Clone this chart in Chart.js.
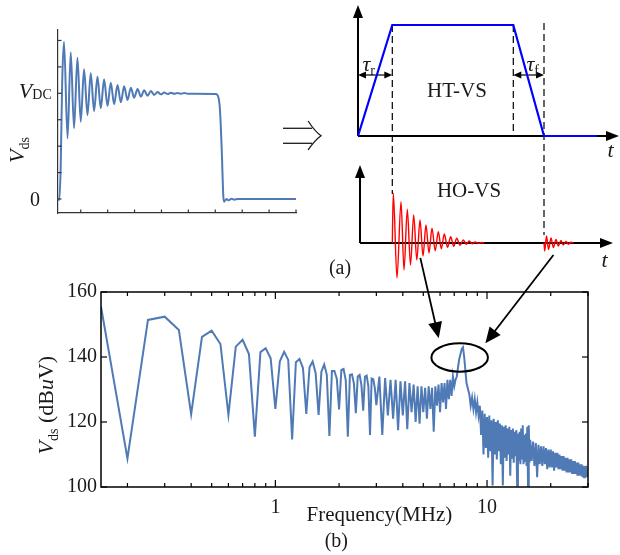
<!DOCTYPE html>
<html>
<head>
<meta charset="utf-8">
<script src="https://cdn.jsdelivr.net/npm/chart.js@4.4.1/dist/chart.umd.min.js"></script>
<style>
  html, body { margin: 0; padding: 0; background: #fff; }
  #fig { position: relative; width: 620px; height: 555px; overflow: hidden; }
  #fig canvas { position: absolute; }
</style>
</head>
<body>
<div id="fig">
  <canvas id="vdsChart" width="330" height="230" style="left:0;top:0"></canvas>
  <canvas id="schemeChart" width="300" height="290" style="left:320px;top:0"></canvas>
  <canvas id="specChart" width="620" height="310" style="left:0;top:245px"></canvas>
</div>
<script>
const FONT = '"Liberation Serif", "Times New Roman", serif';
const INK = '#1a1a1a';
const TRACE = '#4f7ab5';
Chart.defaults.font.family = FONT;
Chart.defaults.color = INK;

// ---- (a) left: measured Vds, time in tick units, level in units of VDC
const vdsTime = [-0.845, -0.80, -0.745, -0.69, -0.622, -0.49, -0.372, -0.249, -0.123, 0.0,
  0.123, 0.25, 0.372, 0.495, 0.622, 0.745, 0.868, 0.995, 1.117, 1.24,
  1.367, 1.49, 1.613, 1.739, 1.862, 1.985, 2.112, 2.235, 2.357, 2.484,
  2.607, 2.73, 2.857, 2.98, 3.102, 3.23, 3.35, 3.48, 3.6, 3.73,
  3.85, 3.98, 4.2, 5.02, 5.11, 5.175, 5.24, 5.30, 5.33, 5.42,
  5.50, 5.60, 5.70, 5.85, 8.0];
const vdsLevel = [0.0, -0.01, 0.30, 1.10, 1.488, 0.574, 1.388, 0.669, 1.337, 0.731,
  1.227, 0.795, 1.189, 0.833, 1.157, 0.858, 1.132, 0.880, 1.100, 0.896,
  1.078, 0.915, 1.066, 0.937, 1.053, 0.958, 1.041, 0.968, 1.028, 0.978,
  1.022, 0.985, 1.012, 0.990, 1.008, 0.993, 1.006, 0.995, 1.004, 0.995,
  1.003, 0.996, 0.996, 0.994, 0.968, 0.842, 0.464, 0.02, -0.025, 0.0,
  -0.012, 0.002, -0.006, 0.0, 0.0];
const vdsTimeTicks = [0, 1, 2, 3, 4, 5, 6, 7, 8];
const vdsLevelTicks = [0, 0.25, 0.5, 0.75, 1, 1.25, 1.5];

// ---- (a) right: HT-VS trapezoid and HO-VS ringing (schematic units)
const htTime = [0, 3.43, 15.53, 18.6, 23.9];
const htLevel = [10.7, 21.8, 21.8, 10.7, 10.7];
const hoRiseTime = [3.43, 3.53, 3.90, 4.30, 4.60, 4.93, 5.25, 5.57, 5.88, 6.20, 6.50, 6.80, 7.10, 7.40, 7.72,
  8.03, 8.33, 8.63, 8.95, 9.27, 9.57, 9.87, 10.20, 10.53, 10.83, 11.13, 11.43, 11.73, 12.05, 12.37, 12.6];
const hoRiseLevel = [0, 4.97, -3.5, 4.13, -2.7, 3.37, -2.2, 2.8, -1.7, 2.3, -1.3, 1.8, -1.0, 1.47, -0.78,
  1.13, -0.58, 0.9, -0.43, 0.63, -0.33, 0.47, -0.23, 0.3, -0.13, 0.2, -0.08, 0.1, -0.04, 0.05, 0];
const hoFallTime = [18.6, 18.67, 18.85, 19.05, 19.3, 19.53, 19.8, 20.03, 20.3, 20.53, 20.8, 21.03, 21.3, 21.55];
const hoFallLevel = [0, -0.8, 0.7, -0.65, 0.5, -0.45, 0.35, -0.3, 0.25, -0.2, 0.15, -0.12, 0.07, 0];
const edgeGuides = [[3.43, 21.8, 4.9], [15.53, 21.8, 11.2], [18.6, 22.0, 0.8]];

// ---- (b): Vds spectrum, dBuV on four frequency grids (MHz)
const dbBand1 = [155.5, 108.8, 151.4, 152.4, 148.3, 122.4, 146.2, 148.1, 144.0, 122.2,
  143.2, 145.3, 140.9, 115.5, 141.5, 142.7, 139.6, 124.0, 138.7, 141.6,
  139.1, 114.6, 138.4, 139.4, 136.6, 122.5, 136.8, 138.6, 135.0, 122.2,
  135.5, 137.7, 134.5, 115.7, 135.7, 135.7, 133.4, 123.9, 136.0, 136.3,
  132.9, 115.5, 134.5, 134.7, 131.9, 122.7, 134.0, 134.5, 131.4, 123.5,
  134.0, 134.3, 131.0, 116.0, 133.4, 133.2, 130.5, 125.2];
const dbBand2 = [134, 116, 133.5, 122, 133, 121, 133, 117.5, 132.5,
  122, 132.5, 117.8, 132, 123, 131.5, 120, 131, 119.5, 131,
  123, 130.5, 121, 131, 124, 130.5, 117, 131, 125, 131.5,
  123, 132, 126, 132, 124, 133, 127, 133, 128, 134,
  131, 133, 134, 137, 139.5, 141, 142.5, 143, 140, 136,
  132];
const dbBand3 = [128.5, 125, 127.5, 124, 127, 123,
  126, 122, 125, 116, 123.5, 110, 122.5, 112,
  121.5, 109, 122, 111, 120.5, 100.5, 121, 110,
  120, 108.5, 120.5, 111, 119.5, 107, 119, 100.5,
  118.5, 109, 119, 108, 118, 110, 118.5, 103.5,
  117.5, 109, 118, 107.5, 117, 109.5, 117.5, 100.5,
  116.5, 108, 117, 107, 118, 108.5, 119, 107,
  116, 108, 116.5, 106.5, 118.5, 100, 119, 107.5,
  114.5];
const dbBand4 = [108, 114, 106.5, 113.5, 103, 113, 107,
  112.5, 106.5, 112.5, 107, 112, 105.5, 111.5, 106,
  111.5, 106, 111, 105, 110.5, 106, 110.5, 105.5,
  110, 105.5, 109.5, 105, 109.5, 105, 109, 104.5,
  109, 104.5, 108.5, 104.5, 108.5, 104, 108, 104,
  108, 104, 107.5, 103.5, 107.5, 103.5, 107, 103.5,
  107, 103, 106.5, 103, 106.5, 103, 106.5, 103,
  105];
const specFreqTicks = [0.2, 0.3, 0.4, 0.5, 0.6, 0.7, 0.8, 0.9, 1, 2, 3, 4, 5, 6, 7, 8, 9, 10, 20, 30];
const specFreqLabels = [1, 10];
const specDbTicks = [100, 120, 140, 160];
const peakRing = { fLo: 5.46, fHi: 10.1, dbLo: 135.5, dbHi: 144.2 };
const pointers = [[4.84, 170.5, 5.91, 145.8], [20.6, 171.4, 9.82, 144.2]];

function gridPoints(from, step, levels) {
  return levels.map((db, i) => ({ x: +(from + i * step).toFixed(3), y: db }));
}
const specPoints = [
  ...gridPoints(0.15, 0.05, dbBand1),
  ...gridPoints(3.1, 0.1, dbBand2),
  ...gridPoints(8.25, 0.125, dbBand3),
  ...gridPoints(16.25, 0.25, dbBand4),
];

function seg(ctx, x1, y1, x2, y2) {
  ctx.beginPath(); ctx.moveTo(x1, y1); ctx.lineTo(x2, y2); ctx.stroke();
}
function arrow(ctx, x1, y1, x2, y2, len, half) {
  const a = Math.atan2(y2 - y1, x2 - x1), c = Math.cos(a), s = Math.sin(a);
  seg(ctx, x1, y1, x2 - len * 0.7 * c, y2 - len * 0.7 * s);
  ctx.beginPath();
  ctx.moveTo(x2, y2);
  ctx.lineTo(x2 - len * c + half * s, y2 - len * s - half * c);
  ctx.lineTo(x2 - len * c - half * s, y2 - len * s + half * c);
  ctx.closePath(); ctx.fill();
}
// parts: [text, size, italic, dy]
function rich(ctx, parts, x, y, align) {
  const fonts = parts.map(([, size, it]) => `${it ? 'italic ' : ''}${size}px ${FONT}`);
  const widths = parts.map(([txt], i) => { ctx.font = fonts[i]; return ctx.measureText(txt).width; });
  const total = widths.reduce((s, w) => s + w, 0);
  let cx = align === 'right' ? x - total : align === 'center' ? x - total / 2 : x;
  ctx.textAlign = 'left'; ctx.textBaseline = 'alphabetic';
  parts.forEach(([txt, , , dy], i) => { ctx.font = fonts[i]; ctx.fillText(txt, cx, y + (dy || 0)); cx += widths[i]; });
}

// ---------- (a) left
const vdsDecor = {
  id: 'vdsDecor',
  afterDraw(chart) {
    const { ctx, chartArea: a, scales: { x, y } } = chart;
    ctx.save();
    ctx.strokeStyle = '#333'; ctx.fillStyle = INK; ctx.lineWidth = 1.2;
    vdsTimeTicks.forEach(t => { const px = x.getPixelForValue(t); seg(ctx, px, a.bottom, px, a.bottom - 3.5); });
    vdsLevelTicks.forEach(v => { const py = y.getPixelForValue(v); seg(ctx, a.left, py, a.left + 3.5, py); });
    rich(ctx, [['0', 20, false]], x.getPixelForValue(-1.512), y.getPixelForValue(-0.064), 'right');
    rich(ctx, [['V', 22, true], ['DC', 14, false, 1]], x.getPixelForValue(-1.078), y.getPixelForValue(0.953), 'right');
    ctx.save();
    ctx.translate(x.getPixelForValue(-2.107), y.getPixelForValue(0.4636));
    ctx.rotate(-Math.PI / 2);
    rich(ctx, [['V', 22, true], ['ds', 14, false, 5]], 0, 0, 'center');
    ctx.restore();
    // "=>" between the panels
    ctx.strokeStyle = INK; ctx.lineWidth = 1.3;
    const x0 = x.getPixelForValue(7.516), x1 = x.getPixelForValue(8.6), xt = x.getPixelForValue(8.93), xb = x.getPixelForValue(8.45);
    seg(ctx, x0, y.getPixelForValue(0.669), x1, y.getPixelForValue(0.669));
    seg(ctx, x0, y.getPixelForValue(0.527), x1, y.getPixelForValue(0.527));
    ctx.beginPath();
    ctx.moveTo(xb, y.getPixelForValue(0.738));
    ctx.quadraticCurveTo(x.getPixelForValue(8.7), y.getPixelForValue(0.64), xt, y.getPixelForValue(0.598));
    ctx.quadraticCurveTo(x.getPixelForValue(8.7), y.getPixelForValue(0.556), xb, y.getPixelForValue(0.464));
    ctx.stroke();
    ctx.restore();
  },
};

new Chart(document.getElementById('vdsChart'), {
  type: 'line',
  data: {
    datasets: [{
      data: vdsTime.map((t, i) => ({ x: t, y: vdsLevel[i] })),
      borderColor: TRACE, borderWidth: 2, pointRadius: 0,
      cubicInterpolationMode: 'monotone', clip: false,
    }],
  },
  options: {
    responsive: false, animation: false, events: [], devicePixelRatio: 1,
    layout: { padding: { left: 0, right: 34, top: 30, bottom: 0 } },
    plugins: { legend: { display: false }, tooltip: { enabled: false } },
    scales: {
      x: {
        type: 'linear', min: -0.845, max: 8.0,
        grid: { display: false, drawTicks: false },
        border: { color: '#333', width: 1.2 },
        ticks: { display: false },
        afterFit: s => { s.height = 17; },
      },
      y: {
        type: 'linear', min: -0.1325, max: 1.599,
        grid: { display: false, drawTicks: false },
        border: { color: '#333', width: 1.2 },
        ticks: { display: false },
        afterFit: s => { s.width = 58; },
      },
    },
  },
  plugins: [vdsDecor],
});

// ---------- (a) right
const schemeAxes = {
  id: 'schemeAxes',
  beforeDatasetsDraw(chart) {
    const { ctx, scales: { x, y } } = chart;
    ctx.save();
    ctx.strokeStyle = '#000'; ctx.fillStyle = '#000'; ctx.lineWidth = 2;
    // HT-VS axes
    arrow(ctx, x.getPixelForValue(0), y.getPixelForValue(10.7), x.getPixelForValue(0), y.getPixelForValue(23.8), 13, 5);
    arrow(ctx, x.getPixelForValue(0), y.getPixelForValue(10.7), x.getPixelForValue(26.1), y.getPixelForValue(10.7), 13, 5);
    // HO-VS axes
    arrow(ctx, x.getPixelForValue(0.2), y.getPixelForValue(0), x.getPixelForValue(0.2), y.getPixelForValue(7.8), 13, 5);
    arrow(ctx, x.getPixelForValue(0.2), y.getPixelForValue(0), x.getPixelForValue(25.5), y.getPixelForValue(0), 13, 5);
    // switching edge guides
    ctx.lineWidth = 1.2; ctx.setLineDash([7, 4]);
    edgeGuides.forEach(([t, v1, v2]) => seg(ctx, x.getPixelForValue(t), y.getPixelForValue(v1), x.getPixelForValue(t), y.getPixelForValue(v2)));
    ctx.setLineDash([]);
    // rise / fall time spans
    ctx.lineWidth = 1.2;
    [[0, 3.43], [15.53, 18.6]].forEach(([t1, t2]) => {
      const py = y.getPixelForValue(16.8), p1 = x.getPixelForValue(t1), p2 = x.getPixelForValue(t2), m = (p1 + p2) / 2;
      arrow(ctx, m, py, p1, py, 8, 3.5);
      arrow(ctx, m, py, p2, py, 8, 3.5);
    });
    ctx.restore();
  },
  afterDraw(chart) {
    const { ctx, scales: { x, y } } = chart;
    ctx.save();
    ctx.fillStyle = INK;
    rich(ctx, [['τ', 22, true], ['r', 14, false, 4]], x.getPixelForValue(0.45), y.getPixelForValue(17.2), 'left');
    rich(ctx, [['τ', 22, true], ['f', 14, false, 4]], x.getPixelForValue(16.85), y.getPixelForValue(17.2), 'left');
    rich(ctx, [['HT-VS', 21, false]], x.getPixelForValue(9.9), y.getPixelForValue(14.6), 'center');
    rich(ctx, [['HO-VS', 21, false]], x.getPixelForValue(11.1), y.getPixelForValue(4.6), 'center');
    rich(ctx, [['t', 22, true]], x.getPixelForValue(25.25), y.getPixelForValue(8.6), 'center');
    rich(ctx, [['t', 22, true]], x.getPixelForValue(24.65), y.getPixelForValue(-2.4), 'center');
    rich(ctx, [['(a)', 20, false]], x.getPixelForValue(-1.8), y.getPixelForValue(-3.1), 'center');
    ctx.restore();
  },
};

new Chart(document.getElementById('schemeChart'), {
  type: 'line',
  data: {
    datasets: [
      {
        data: htTime.map((t, i) => ({ x: t, y: htLevel[i] })),
        borderColor: '#0000ff', borderWidth: 2.2, pointRadius: 0, tension: 0, clip: false,
      },
      {
        data: hoRiseTime.map((t, i) => ({ x: t, y: hoRiseLevel[i] })),
        borderColor: '#ff0000', borderWidth: 1.4, pointRadius: 0, cubicInterpolationMode: 'monotone', clip: false,
      },
      {
        data: hoFallTime.map((t, i) => ({ x: t, y: hoFallLevel[i] })),
        borderColor: '#ff0000', borderWidth: 1.4, pointRadius: 0, cubicInterpolationMode: 'monotone', clip: false,
      },
    ],
  },
  options: {
    responsive: false, animation: false, events: [], devicePixelRatio: 1,
    layout: { padding: { left: 38, right: 2, top: 0, bottom: 0 } },
    plugins: { legend: { display: false }, tooltip: { enabled: false } },
    scales: {
      x: { type: 'linear', display: false, min: 0, max: 26 },
      y: { type: 'linear', display: false, min: -4.7, max: 24.3 },
    },
  },
  plugins: [schemeAxes],
});

// ---------- (b)
const specDecor = {
  id: 'specDecor',
  afterDraw(chart) {
    const { ctx, chartArea: a, scales: { x, y } } = chart;
    ctx.save();
    ctx.strokeStyle = '#000'; ctx.fillStyle = '#000'; ctx.lineWidth = 1.5;
    ctx.strokeRect(a.left, a.top, a.right - a.left, a.bottom - a.top);
    ctx.lineWidth = 1.2;
    specFreqTicks.forEach(f => {
      const px = x.getPixelForValue(f), len = specFreqLabels.includes(f) ? 7 : 4;
      seg(ctx, px, a.bottom, px, a.bottom - len);
      seg(ctx, px, a.top, px, a.top + len);
    });
    specDbTicks.forEach(d => {
      const py = y.getPixelForValue(d);
      seg(ctx, a.left, py, a.left + 6, py);
      seg(ctx, a.right, py, a.right - 6, py);
    });
    // resonance ring
    const l = x.getPixelForValue(peakRing.fLo), r = x.getPixelForValue(peakRing.fHi);
    const t = y.getPixelForValue(peakRing.dbHi), b = y.getPixelForValue(peakRing.dbLo);
    ctx.lineWidth = 2;
    ctx.beginPath(); ctx.ellipse((l + r) / 2, (t + b) / 2, (r - l) / 2, (b - t) / 2, 0, 0, Math.PI * 2); ctx.stroke();
    // pointers from the HO-VS bursts
    ctx.lineWidth = 1.8;
    pointers.forEach(([f1, d1, f2, d2]) => arrow(ctx, x.getPixelForValue(f1), y.getPixelForValue(d1), x.getPixelForValue(f2), y.getPixelForValue(d2), 16, 7));
    // titles
    ctx.fillStyle = INK;
    rich(ctx, [['Frequency(MHz)', 21, false]], x.getPixelForValue(3.10), y.getPixelForValue(89.6), 'center');
    rich(ctx, [['(b)', 20, false]], x.getPixelForValue(1.94), y.getPixelForValue(81.6), 'center');
    ctx.save();
    ctx.translate(x.getPixelForValue(0.0894), y.getPixelForValue(125.2));
    ctx.rotate(-Math.PI / 2);
    rich(ctx, [['V', 22, true], ['ds', 14, false, 5], [' (dB', 22, false], ['u', 22, true], ['V)', 22, false]], 0, 0, 'center');
    ctx.restore();
    ctx.restore();
  },
};

new Chart(document.getElementById('specChart'), {
  type: 'line',
  data: {
    datasets: [{
      data: specPoints,
      borderColor: TRACE, borderWidth: 2, pointRadius: 0, tension: 0,
    }],
  },
  options: {
    responsive: false, animation: false, events: [], devicePixelRatio: 1,
    layout: { padding: { left: 0, right: 32, top: 47, bottom: 0 } },
    plugins: { legend: { display: false }, tooltip: { enabled: false } },
    scales: {
      x: {
        type: 'logarithmic', min: 0.15, max: 30,
        grid: { display: false, drawTicks: false },
        border: { display: false },
        afterBuildTicks: s => { s.ticks = specFreqTicks.map(v => ({ value: v })); },
        ticks: {
          autoSkip: false, maxRotation: 0, padding: 9, font: { size: 20 },
          callback: v => (specFreqLabels.includes(v) ? String(v) : ''),
        },
        afterFit: s => { s.height = 68; },
      },
      y: {
        type: 'linear', min: 100, max: 160,
        grid: { display: false, drawTicks: false },
        border: { display: false },
        afterBuildTicks: s => { s.ticks = specDbTicks.map(v => ({ value: v })); },
        ticks: { autoSkip: false, padding: 4, font: { size: 20 } },
        afterFit: s => { s.width = 101; },
      },
    },
  },
  plugins: [specDecor],
});
</script>
</body>
</html>
